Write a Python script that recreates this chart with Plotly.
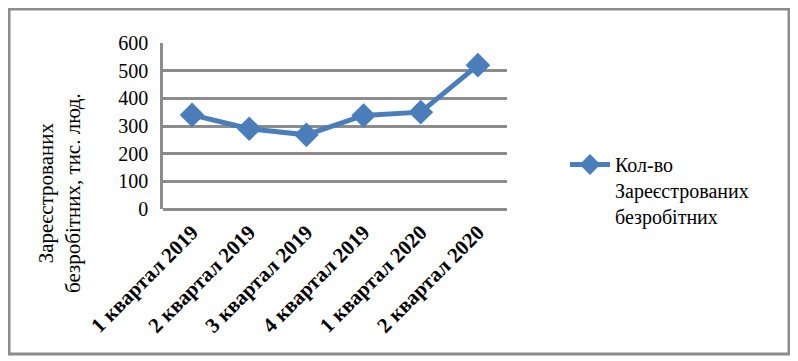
import plotly.graph_objects as go

quarters = ["1 квартал 2019", "2 квартал 2019", "3 квартал 2019",
            "4 квартал 2019", "1 квартал 2020", "2 квартал 2020"]
unemployed = [340, 290, 268, 338, 350, 520]
series_name = "Кол-во<br>Зареєстрованих<br>безробітних"
y_ticks = [0, 100, 200, 300, 400, 500, 600]

FONT = "Liberation Serif"
BLUE = "#4a7ebb"
GRID = "#8c8c8c"

# the page body has an 8px margin, so work in figure coords = page - 8
OFF = 8
W, H = 798 - OFF, 361 - OFF
L, R, T, B = 163 - OFF, W - (507 - OFF), 43 - OFF, H - (209 - OFF)
pw, ph = W - L - R, H - T - B


def px_x(x):
    return (x - OFF - L) / pw


def px_y(y):
    return (H - (y - OFF) - B) / ph


fig = go.Figure()
fig.add_trace(go.Scatter(
    x=quarters, y=unemployed, name=series_name, mode="lines+markers",
    line=dict(color=BLUE, width=5),
    marker=dict(symbol="diamond", size=19, color=BLUE),
))

fig.update_layout(
    width=W, height=H,
    margin=dict(l=L, r=R, t=T, b=B),
    paper_bgcolor="white", plot_bgcolor="white",
    font=dict(family=FONT, size=19, color="black"),
    showlegend=True,
    legend=dict(x=px_x(565), y=px_y(145), xanchor="left", yanchor="top",
                valign="top", font=dict(family=FONT, size=20),
                tracegroupgap=0, itemwidth=40),
    xaxis=dict(tickangle=-45, showgrid=False, showline=False, ticks="",
               ticklabelstandoff=6,
               tickfont=dict(family=FONT, size=21, weight="bold")),
    yaxis=dict(range=[0, 600], tickvals=y_ticks, showgrid=True,
               gridcolor=GRID, gridwidth=2.5, zeroline=True,
               zerolinecolor=GRID, zerolinewidth=2.5,
               showline=True, linecolor=GRID, linewidth=2.5,
               ticks="", ticklabelstandoff=8,
               tickfont=dict(family=FONT, size=20)),
)

# y-axis title as a rotated two-line annotation
fig.add_annotation(
    text="Зареєстрованих<br>безробітних, тис. люд.",
    xref="paper", yref="paper", x=px_x(59), y=px_y(193),
    xanchor="center", yanchor="middle",
    showarrow=False, textangle=-90, align="center",
    font=dict(family=FONT, size=21),
)

# outer chart border
fig.add_shape(
    type="rect", xref="paper", yref="paper",
    x0=px_x(9), x1=px_x(789), y0=px_y(354), y1=px_y(9),
    line=dict(color=GRID, width=3),
)

fig.write_html("out.html")
